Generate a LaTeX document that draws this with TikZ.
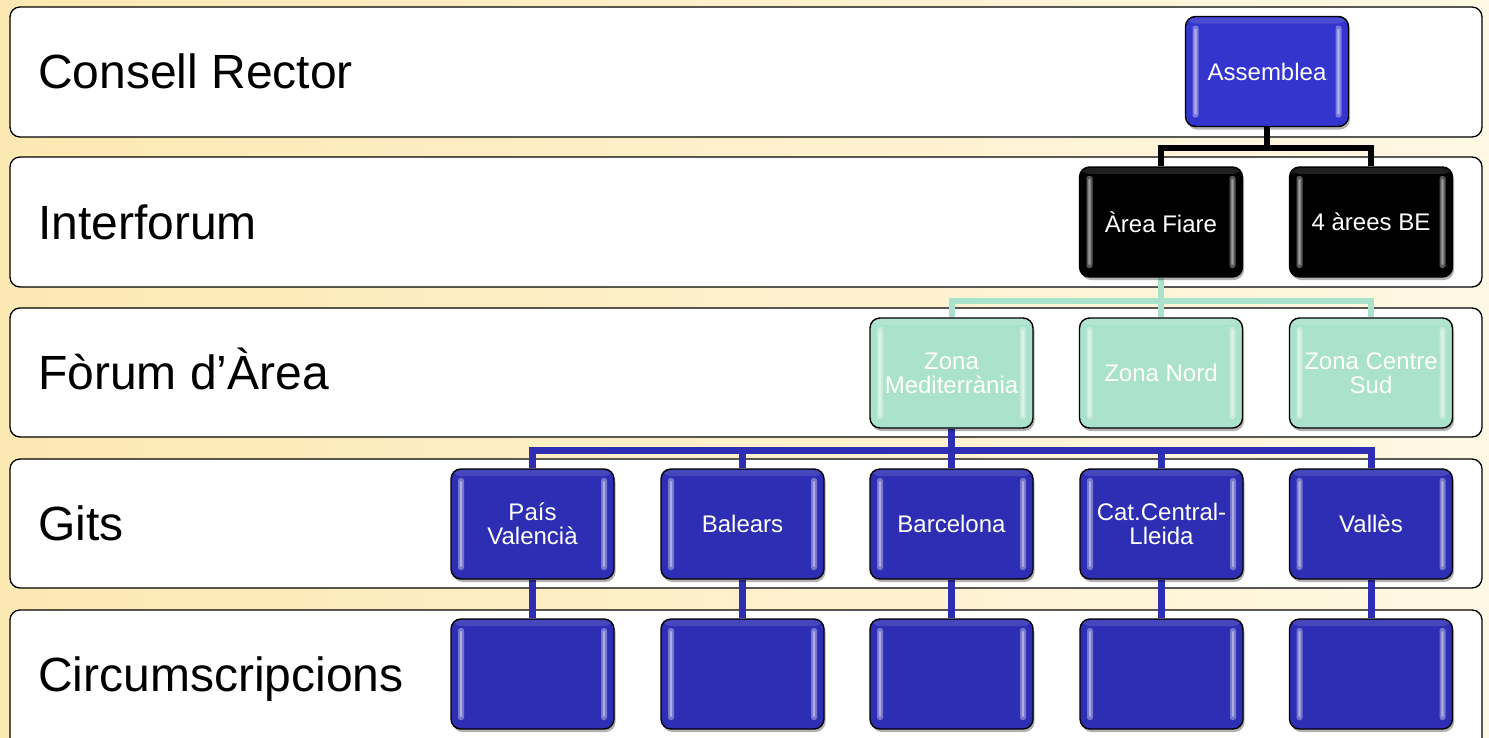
\documentclass[tikz,border=0pt]{standalone}
\usepackage{fontspec}
\setmainfont{Liberation Sans}
\usetikzlibrary{shadows}
\definecolor{bgL}{RGB}{252,232,178}
\definecolor{bgR}{RGB}{255,248,228}
\definecolor{boxblue}{RGB}{46,46,180}
\definecolor{asmblue}{RGB}{52,52,206}
\definecolor{mint}{RGB}{170,226,204}
\pgfdeclarelayer{rows}
\pgfdeclarelayer{conns}
\pgfsetlayers{rows,conns,main}
\tikzset{
  rowbox/.style={draw=black, line width=1.3pt, fill=white, rounded corners=10pt},
  rowlabel/.style={anchor=base west, font=\fontsize{48}{48}\selectfont, text=black, inner sep=0pt},
  orgbox/.style={draw=black, line width=1.4pt, rounded corners=10pt,
    minimum width=163pt, minimum height=110pt, align=center,
    font=\fontsize{24}{24}\selectfont, text=white, inner sep=0pt,
    drop shadow={shadow xshift=1.5pt, shadow yshift=-3pt, opacity=0.3, fill=black},
    path picture={
      \fill[white,opacity=0.35,rounded corners=2.5pt]
        ([xshift=7pt,yshift=-9pt]path picture bounding box.north west) rectangle
        ([xshift=13pt,yshift=9pt]path picture bounding box.south west);
      \fill[white,opacity=0.4,rounded corners=1pt]
        ([xshift=8.8pt,yshift=-12pt]path picture bounding box.north west) rectangle
        ([xshift=11.2pt,yshift=12pt]path picture bounding box.south west);
      \fill[white,opacity=0.35,rounded corners=2.5pt]
        ([xshift=-7pt,yshift=-9pt]path picture bounding box.north east) rectangle
        ([xshift=-13pt,yshift=9pt]path picture bounding box.south east);
      \fill[white,opacity=0.4,rounded corners=1pt]
        ([xshift=-8.8pt,yshift=-12pt]path picture bounding box.north east) rectangle
        ([xshift=-11.2pt,yshift=12pt]path picture bounding box.south east);
      \fill[white,opacity=0.12]
        ([yshift=-1pt]path picture bounding box.north west) rectangle
        ([yshift=-7pt]path picture bounding box.north east);
    }},
  bluebox/.style={orgbox, fill=boxblue},
  asmbox/.style={orgbox, fill=asmblue},
  blackbox/.style={orgbox, fill=black},
  mintbox/.style={orgbox, fill=mint},
  conblack/.style={draw=black, line width=6pt},
  conmint/.style={draw=mint, line width=6pt},
  conblue/.style={draw=boxblue, line width=7pt},
}
\begin{document}
\begin{tikzpicture}[x=1pt, y=-1pt]
\useasboundingbox (0,0) rectangle (1489,737);
\clip (0,0) rectangle (1489,737);
\begin{pgfonlayer}{rows}
  \shade[left color=bgL, right color=bgR] (0,0) rectangle (1489,737);
  \draw[rowbox] (10,7) rectangle (1482,137);
  \draw[rowbox] (10,157) rectangle (1482,287);
  \draw[rowbox] (10,308) rectangle (1482,437);
  \draw[rowbox] (10,459) rectangle (1482,588);
  \draw[rowbox] (10,610) rectangle (1482,750);
\end{pgfonlayer}
\node[rowlabel] (l1) at (38,88) {Consell Rector};
\node[rowlabel] (l2) at (38,239) {Interforum};
\node[rowlabel] (l3) at (38,389) {Fòrum d’Àrea};
\node[rowlabel] (l4) at (38,540) {Gits};
\node[rowlabel] (l5) at (38,691) {Circumscripcions};

\node[asmbox] (asm) at (1267,71.5) {Assemblea};
\node[blackbox] (af) at (1161,222) {Àrea Fiare};
\node[blackbox] (be) at (1371,222) {4 àrees BE};
\node[mintbox] (zm) at (951.5,373) {Zona\\Mediterrània};
\node[mintbox] (zn) at (1161,373) {Zona Nord};
\node[mintbox] (zc) at (1371,373) {Zona Centre\\Sud};
\node[bluebox] (g1) at (532.5,524) {País\\Valencià};
\node[bluebox] (g2) at (742.5,524) {Balears};
\node[bluebox] (g3) at (951.5,524) {Barcelona};
\node[bluebox] (g4) at (1161.5,524) {Cat.Central-\\Lleida};
\node[bluebox] (g5) at (1371,524) {Vallès};
\node[bluebox] (c1) at (532.5,674) {};
\node[bluebox] (c2) at (742.5,674) {};
\node[bluebox] (c3) at (951.5,674) {};
\node[bluebox] (c4) at (1161.5,674) {};
\node[bluebox] (c5) at (1371,674) {};

\begin{pgfonlayer}{conns}
  \draw[conblack] (asm.south) -- ++(0,21) -| (af.north);
  \draw[conblack] (asm.south) -- ++(0,21) -| (be.north);
  \draw[conmint] (af.south) -- ++(0,23) -| (zm.north);
  \draw[conmint] (af.south) -- ++(0,23) -| (zn.north);
  \draw[conmint] (af.south) -- ++(0,23) -| (zc.north);
  \draw[conblue] (zm.south) -- ++(0,22) -| (g1.north);
  \draw[conblue] (zm.south) -- ++(0,22) -| (g2.north);
  \draw[conblue] (zm.south) -- ++(0,22) -| (g3.north);
  \draw[conblue] (zm.south) -- ++(0,22) -| (g4.north);
  \draw[conblue] (zm.south) -- ++(0,22) -| (g5.north);
  \draw[conblue] (g1.south) -- (c1.north);
  \draw[conblue] (g2.south) -- (c2.north);
  \draw[conblue] (g3.south) -- (c3.north);
  \draw[conblue] (g4.south) -- (c4.north);
  \draw[conblue] (g5.south) -- (c5.north);
\end{pgfonlayer}
\end{tikzpicture}
\end{document}
